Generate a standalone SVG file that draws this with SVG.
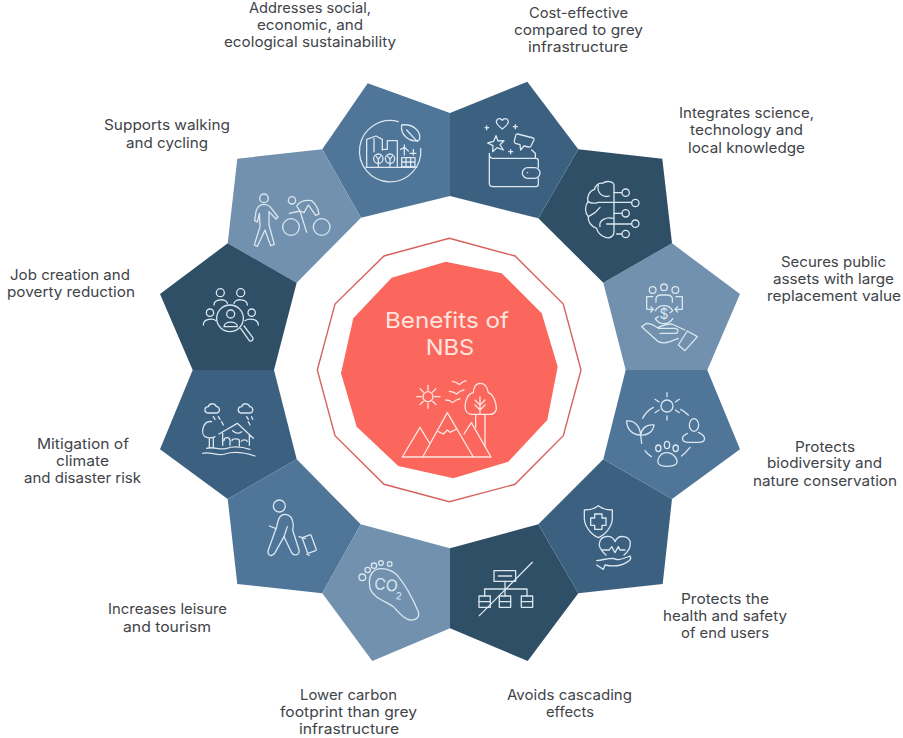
<svg xmlns="http://www.w3.org/2000/svg" width="903" height="738" viewBox="0 0 903 738">
<style>
.lbl{font-family:Inter,"Noto Sans","Liberation Sans",sans-serif;font-size:14.5px;fill:#414449}
.ic{fill:none;stroke:#dbe7f1;stroke-width:3.9;stroke-linecap:round;stroke-linejoin:round}
.ict{font-family:Inter,"Noto Sans","Liberation Sans",sans-serif;fill:#dbe7f1;stroke:none}
.hub{fill:none;stroke:#ffe8e2;stroke-width:3.9;stroke-linecap:round;stroke-linejoin:round}
.hubt{font-family:Inter,"Noto Sans","Liberation Sans",sans-serif;font-size:22px;fill:#ffe4de}
.c1{fill:#4f7598}.c2{fill:#7191ae}.c3{fill:#2f4f66}.c4{fill:#3c6180}
</style>
<rect width="903" height="738" fill="#fff"/>

<g id="center">
<polygon points="449.3,238.3 515,256 563.3,304 581,370 563.3,435.7 515,484.3 449.3,501.7 384,484.3 335,435.7 317.3,370 335,304 384,256" fill="none" stroke="#d8625e" stroke-width="1.4"/>
<polygon points="445.7,261.7 501.7,273.3 541.7,313.3 557.7,366.7 547.3,420 508.3,461.7 453.3,478.3 398.3,466 356.7,426.7 341,373.3 353.3,318.3 391.7,277.7" fill="#fb665d"/>
<text class="hubt" x="385" y="327.7" textLength="124" lengthAdjust="spacingAndGlyphs">Benefits of</text>
<text class="hubt" x="425.7" y="355" textLength="48.5" lengthAdjust="spacingAndGlyphs">NBS</text>
<g transform="translate(310,230) scale(.33333)" class="hub">
<circle cx="354" cy="500" r="15"/>
<path d="M354 466V480M354 520V535M320 500H334M374 500H390M330 476L340 486M368 514L378 524M378 476L368 486M340 514L330 524"/>
<path d="M428 454Q440 456 448 464Q456 456 468 452M418 484Q430 484 440 492Q448 484 462 480M408 510Q420 510 428 518Q436 510 450 506"/>
<path d="M277 681H543M277 681L330 592L360 642M338 681L412 548L490 681M462 612L484 578L543 681M385 605L400 612L412 600L420 607L440 597"/>
<path d="M510 460C495 460 490 478 490 488C475 490 465 510 465 530C465 545 475 553 485 553H540C555 553 562 540 558 525C555 505 545 490 535 488C532 470 525 460 510 460Z"/>
<path d="M497 553V592M525 553V650M510 500V553M495 510L510 525L525 510M495 525L510 540L525 525"/>
</g>
</g>

<g id="node-addresses">
<polygon class="c1" points="367.7,83.3 450,113 450,196 361,217.7 322.3,149.3"/>
<g transform="translate(150,70) scale(.33333)" class="ic">
<path d="M745 155A92 92 0 1 0 812 235"/>
<path d="M755 165C790 160 815 185 808 210C780 220 750 195 755 165ZM770 180L802 215"/>
<path d="M648 292H800M650 290V208L678 198L697 208V240M697 238H712V212H742V290M672 200V245"/>
<circle cx="685" cy="266" r="14"/><circle cx="720" cy="266" r="14"/>
<path d="M685 270V290M720 270V290M678 258L685 268L692 258M713 258L720 268L727 258"/>
<path d="M755 263H795V290H755ZM755 276H795M768 263V290M782 263V290"/>
<path d="M763 225V255M752 238L763 232L775 243M790 238V255M780 250H798"/>
</g>
<text class="lbl" x="249" y="12.7" textLength="122" lengthAdjust="spacingAndGlyphs">Addresses social,</text>
<text class="lbl" x="257" y="29.5" textLength="106" lengthAdjust="spacingAndGlyphs">economic, and</text>
<text class="lbl" x="224" y="46.7" textLength="172" lengthAdjust="spacingAndGlyphs">ecological sustainability</text>
</g>

<g id="node-walking">
<polygon class="c2" points="237.3,158.7 322.3,149.3 361,217.7 296.7,282.7 227.7,243.3"/>
<g transform="translate(150,70) scale(.33333)" class="ic">
<circle cx="342" cy="385" r="13"/>
<path d="M342 403C330 403 322 408 318 425L314 452L322 456L328 430L330 470L313 525L322 529L345 480L362 527L373 523L357 465L357 425L378 447L384 441L360 410C355 405 350 403 342 403Z"/>
<circle cx="426" cy="391" r="11"/>
<circle cx="423" cy="471" r="25"/><circle cx="515" cy="471" r="25"/>
<path d="M418 430L450 423L440 408C450 392 470 390 485 392C495 400 505 415 507 432L497 436L475 405L462 428L450 423L470 487"/>
</g>
<text class="lbl" x="104" y="130" textLength="126" lengthAdjust="spacingAndGlyphs">Supports walking</text>
<text class="lbl" x="126" y="147.5" textLength="82" lengthAdjust="spacingAndGlyphs">and cycling</text>
</g>

<g id="node-job">
<polygon class="c3" points="227.7,243.3 296.7,282.7 274,370 192.7,370 160,294"/>
<g transform="translate(150,70) scale(.33333)" class="ic">
<circle cx="240" cy="745" r="40"/><circle cx="242" cy="732" r="12"/>
<path d="M222 770C222 752 262 752 262 770H222ZM272 775L298 812C305 816 312 808 308 802L282 768"/>
<circle cx="211" cy="668" r="12"/><circle cx="272" cy="668" r="12"/>
<path d="M192 705C192 685 230 685 232 700M252 700C254 685 292 685 292 705"/>
<circle cx="180" cy="728" r="11"/><circle cx="305" cy="728" r="11"/>
<path d="M160 765C160 745 190 745 198 752M285 752C295 745 325 745 325 765"/>
</g>
<text class="lbl" x="10" y="280" textLength="120" lengthAdjust="spacingAndGlyphs">Job creation and</text>
<text class="lbl" x="7" y="296.7" textLength="128" lengthAdjust="spacingAndGlyphs">poverty reduction</text>
</g>

<g id="node-mitigation">
<polygon class="c4" points="192.7,370 274,370 296.7,459.3 227.7,499 160,449.3"/>
<g transform="translate(150,370) scale(.33333)" class="ic">
<path d="M172 129C162 126 162 110 175 110C180 97 197 100 199 110C210 108 212 129 200 129ZM272 129C262 126 262 110 275 110C280 97 297 100 299 110C310 108 312 129 300 129Z"/>
<path d="M190 140L195 148M205 140L210 148M215 155L220 165M290 140L295 148M305 140L308 148M295 155L300 165"/>
<path d="M207 192L262 160L310 205M218 190V226M298 195V226M222 212C222 200 240 200 240 212V226M246 212C246 205 268 205 268 212V228M274 214C276 208 290 208 292 214M248 182Q262 195 275 185"/>
<path d="M185 155C160 150 150 190 165 200C175 205 185 205 195 200M178 205V232M190 205V232"/>
<path d="M170 235C190 228 210 242 230 235S270 228 300 238M158 250C180 243 200 260 225 252S275 245 315 258"/>
</g>
<text class="lbl" x="37" y="449" textLength="92" lengthAdjust="spacingAndGlyphs">Mitigation of</text>
<text class="lbl" x="56" y="466" textLength="53" lengthAdjust="spacingAndGlyphs">climate</text>
<text class="lbl" x="24" y="483" textLength="117" lengthAdjust="spacingAndGlyphs">and disaster risk</text>
</g>

<g id="node-leisure">
<polygon class="c1" points="296.7,459.3 360.7,524.3 322.3,593.3 237.3,584 227.7,499"/>
<g transform="translate(150,370) scale(.33333)" class="ic">
<circle cx="388" cy="408" r="18"/>
<path d="M405 433C390 433 385 445 380 470L355 540C350 558 368 562 375 548L402 500L425 548C432 560 450 555 447 540L428 480L430 465C428 445 420 433 405 433Z"/>
<path d="M358 468L378 476M412 470L402 500"/>
<rect x="464" y="497" width="28" height="50" rx="3" transform="rotate(-20 478 522)"/>
<path d="M447 500L466 506M470 552L478 556"/>
</g>
<text class="lbl" x="108" y="614" textLength="119" lengthAdjust="spacingAndGlyphs">Increases leisure</text>
<text class="lbl" x="123" y="631.7" textLength="88" lengthAdjust="spacingAndGlyphs">and tourism</text>
</g>

<g id="node-lower">
<polygon class="c2" points="360.7,524.3 450,548.3 450,628.3 372.3,661 322.3,593.3"/>
<g transform="translate(150,370) scale(.33333)" class="ic">
<circle cx="637" cy="622" r="10"/><circle cx="653" cy="600" r="8"/><circle cx="672" cy="587" r="8"/><circle cx="693" cy="579" r="7"/><circle cx="719" cy="582" r="7"/>
<path d="M675 600C700 590 730 600 745 620C770 650 790 690 805 725C810 745 795 752 780 750C760 748 745 725 730 710C710 695 670 685 660 655C655 630 660 610 675 600Z"/>
<text class="ict" x="672" y="660" font-size="48" transform="rotate(8 700 645)">CO</text>
<text class="ict" x="737" y="688" font-size="30" transform="rotate(8 745 680)">2</text>
</g>
<text class="lbl" x="300" y="700" textLength="97" lengthAdjust="spacingAndGlyphs">Lower carbon</text>
<text class="lbl" x="280" y="717" textLength="137" lengthAdjust="spacingAndGlyphs">footprint than grey</text>
<text class="lbl" x="299" y="734" textLength="100" lengthAdjust="spacingAndGlyphs">infrastructure</text>
</g>

<g id="node-avoids">
<polygon class="c3" points="538.3,524.3 578.3,593.3 527.7,661 450,628.3 450,548.3"/>
<g transform="translate(450,370) scale(.33333)" class="ic">
<rect x="132" y="602" width="65" height="32"/><path d="M145 618H185M165 634V678M104 678V657H231V678"/>
<rect x="87" y="678" width="34" height="34"/><rect x="148" y="678" width="34" height="34"/><rect x="214" y="678" width="34" height="34"/>
<path d="M87 695H121M148 695H182M214 695H248M88 737L247 577"/>
</g>
<text class="lbl" x="507" y="700" textLength="125" lengthAdjust="spacingAndGlyphs">Avoids cascading</text>
<text class="lbl" x="546" y="717" textLength="48" lengthAdjust="spacingAndGlyphs">effects</text>
</g>

<g id="node-health">
<polygon class="c4" points="603.3,459.3 672,499 662.7,584 578.3,593.3 538.3,524.3"/>
<g transform="translate(450,370) scale(.33333)" class="ic">
<path d="M403 420C425 420 435 415 445 407C455 415 465 420 487 420V445C487 470 465 495 445 503C425 495 403 470 403 445Z"/>
<path d="M434 432H456V444H468V466H456V478H434V466H422V444H434Z"/>
<path d="M468 555C450 540 445 525 449 517C452 498 485 490 495 515C505 490 540 498 541 520C541 530 535 545 522 555"/>
<path d="M455 540H478L485 530L495 548L505 530L510 540H525"/>
<path d="M440 572C460 570 470 565 490 565C500 570 505 572 540 558C545 565 540 572 530 577C510 590 490 590 465 585L460 598L440 585"/>
</g>
<text class="lbl" x="681" y="604" textLength="88" lengthAdjust="spacingAndGlyphs">Protects the</text>
<text class="lbl" x="663" y="621" textLength="124" lengthAdjust="spacingAndGlyphs">health and safety</text>
<text class="lbl" x="681" y="638" textLength="88" lengthAdjust="spacingAndGlyphs">of end users</text>
</g>

<g id="node-biodiversity">
<polygon class="c1" points="625.7,370 707.3,370 740,449.3 672,499 603.3,459.3"/>
<g transform="translate(450,370) scale(.33333)" class="ic">
<circle cx="651" cy="108" r="18"/>
<path d="M651 68V80M651 138V150M615 88L627 96M688 88L676 96M615 128L627 120M688 128L676 120"/>
<path d="M578 145C585 130 595 120 610 112M692 118C700 122 708 128 715 135M585 242C590 250 597 256 604 260M695 258C705 250 712 242 720 232"/>
<path d="M530 153C555 150 570 170 572 195C545 195 530 175 530 153ZM612 165C590 162 575 175 572 195C590 198 610 185 612 165ZM572 195L575 220"/>
<ellipse cx="732" cy="165" rx="14" ry="19"/>
<path d="M712 190C690 200 695 217 715 217H745C770 217 770 198 745 187"/>
<path d="M650 248C630 248 620 270 625 280C630 292 670 292 680 280C685 268 670 248 650 248Z"/>
<ellipse cx="625" cy="235" rx="8" ry="10"/><ellipse cx="651" cy="225" rx="8" ry="11"/><ellipse cx="677" cy="235" rx="8" ry="10"/>
</g>
<text class="lbl" x="795" y="451.7" textLength="60" lengthAdjust="spacingAndGlyphs">Protects</text>
<text class="lbl" x="767" y="468" textLength="115" lengthAdjust="spacingAndGlyphs">biodiversity and</text>
<text class="lbl" x="753" y="485.7" textLength="144" lengthAdjust="spacingAndGlyphs">nature conservation</text>
</g>

<g id="node-secures">
<polygon class="c2" points="672,243.3 740,294 707.3,370 625.7,370 603.3,282.7"/>
<g transform="translate(450,70) scale(.33333)" class="ic">
<circle cx="608" cy="660" r="10"/><circle cx="642" cy="652" r="10"/><circle cx="676" cy="660" r="10"/>
<path d="M618 697V685Q620 675 635 675H650Q665 675 667 685V697"/>
<path d="M608 680H590V718H610M602 710L610 718L602 726M678 680H697V718H675M683 710L675 718L683 726"/>
<path d="M616 722A30 30 0 0 1 668 722M668 746A30 30 0 0 1 616 746M616 746L625 740M668 722L660 728"/>
<text class="ict" x="642" y="748" font-size="42" text-anchor="middle">$</text>
<path d="M575 770L590 760Q605 760 625 775H675Q690 778 680 790H630M575 770L625 815Q640 822 660 815L685 805M625 772Q645 762 665 762L705 780"/>
<path d="M712 783L742 800L705 842L685 825Z"/>
</g>
<text class="lbl" x="781" y="267" textLength="105" lengthAdjust="spacingAndGlyphs">Secures public</text>
<text class="lbl" x="773" y="284" textLength="121" lengthAdjust="spacingAndGlyphs">assets with large</text>
<text class="lbl" x="767" y="301" textLength="134" lengthAdjust="spacingAndGlyphs">replacement value</text>
</g>

<g id="node-integrates">
<polygon class="c3" points="578.3,149.3 662.3,158.7 672,243.3 603.3,282.7 538.3,218.3"/>
<g transform="translate(450,70) scale(.33333)" class="ic">
<path d="M492 372V345C490 335 470 330 458 340C445 337 435 348 434 358C418 362 410 380 414 395C403 410 405 430 415 440C412 455 425 470 440 475C445 495 470 510 485 500C490 497 492 492 492 486V372"/>
<path d="M492 368H515M445 397H545M492 430H515M470 462H545M500 492H515"/>
<circle cx="527" cy="368" r="11"/><circle cx="556" cy="399" r="11"/><circle cx="527" cy="430" r="11"/><circle cx="556" cy="461" r="11"/><circle cx="527" cy="492" r="11"/>
<path d="M445 345C440 365 455 385 478 378M414 395C425 402 436 400 445 397M415 440L435 428L450 412M450 470C445 450 470 440 490 445"/>
</g>
<text class="lbl" x="679" y="118" textLength="135" lengthAdjust="spacingAndGlyphs">Integrates science,</text>
<text class="lbl" x="690" y="135" textLength="113" lengthAdjust="spacingAndGlyphs">technology and</text>
<text class="lbl" x="688" y="152.7" textLength="117" lengthAdjust="spacingAndGlyphs">local knowledge</text>
</g>

<g id="node-cost">
<polygon class="c4" points="450,113 527.3,81.7 578.3,149.3 538.3,218.3 450,196"/>
<g transform="translate(450,70) scale(.33333)" class="ic">
<path d="M118 250V340Q118 350 128 350H258Q265 350 265 342V325M265 293V272Q265 265 258 265H128Q118 265 118 250"/>
<path d="M245 240L256 250V265"/>
<rect x="217" y="293" width="53" height="32" rx="16"/>
<path d="M232 308H233"/>
<path d="M157 177C145 168 136 158 140 151C145 143 153 145 157 151C161 145 170 143 174 151C178 158 169 168 157 177Z"/>
<path d="M138 197L144 213L162 212L150 224L160 240L141 233L128 245L129 227L113 219L131 214Z"/>
<path d="M203 192L250 204Q253 205 252 209L243 228Q241 232 236 231L222 228L212 240L210 224L196 220Q192 218 193 213L197 197Q198 191 203 192Z"/>
<path d="M105 173H116M110 168V179M190 170H202M196 164V176M176 245H188M182 239V251"/>
</g>
<text class="lbl" x="529" y="18" textLength="99" lengthAdjust="spacingAndGlyphs">Cost-effective</text>
<text class="lbl" x="514" y="35" textLength="129" lengthAdjust="spacingAndGlyphs">compared to grey</text>
<text class="lbl" x="528" y="52" textLength="100" lengthAdjust="spacingAndGlyphs">infrastructure</text>
</g>
</svg>
